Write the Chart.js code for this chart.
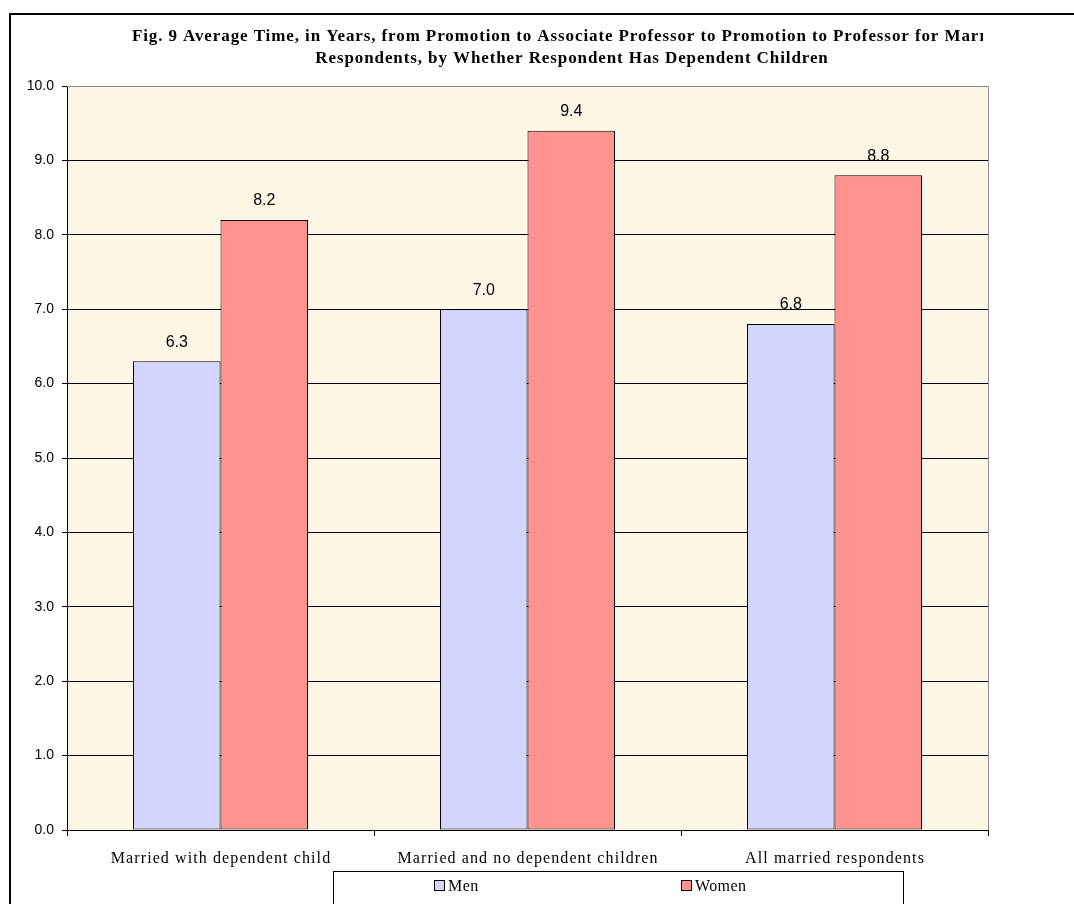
<!DOCTYPE html>
<html>
<head>
<meta charset="utf-8">
<script src="https://cdn.jsdelivr.net/npm/chart.js@4/dist/chart.umd.min.js"></script>
<style>
  html, body { margin: 0; padding: 0; background: #ffffff; }
  #wrap { width: 1074px; height: 904px; position: relative; }
</style>
</head>
<body>
<div id="wrap"><canvas id="c" width="1074" height="904"></canvas></div>
<script>
// Chart data
const titleLines = [
  'Fig. 9 Average Time, in Years, from Promotion to Associate Professor to Promotion to Professor for Married',
  'Respondents, by Whether Respondent Has Dependent Children'
];
const categories = ['Married with dependent child', 'Married and no dependent children', 'All married respondents'];
const seriesNames = ['Men', 'Women'];
const menValues = [6.3, 7.0, 6.8];
const womenValues = [8.2, 9.4, 8.8];
const yMin = 0, yMax = 10, yStep = 1;

const SERIF = '"Liberation Serif", "Times New Roman", serif';
const SANS = '"Liberation Sans", Arial, sans-serif';

// Cream plot background, gray top/right frame and the outer chart frame
const framePlugin = {
  id: 'frame',
  beforeDraw(chart) {
    const { ctx, chartArea: a } = chart;
    ctx.save();
    ctx.fillStyle = '#ffffff';
    ctx.fillRect(0, 0, chart.width, chart.height);
    ctx.fillStyle = '#fff7e6';
    ctx.fillRect(a.left, a.top, a.right - a.left, a.bottom - a.top);
    ctx.restore();
  },
  afterDraw(chart) {
    const { ctx, chartArea: a } = chart;
    ctx.save();
    ctx.strokeStyle = '#8c8c8c';
    ctx.lineWidth = 1;
    ctx.beginPath();
    ctx.moveTo(a.left, a.top + 0.5);
    ctx.lineTo(a.right + 0.5, a.top + 0.5);
    ctx.lineTo(a.right + 0.5, a.bottom);
    ctx.stroke();
    // outer chart frame
    ctx.strokeStyle = '#000000';
    ctx.lineWidth = 2;
    ctx.strokeRect(10, 14, 1200, 1200);
    ctx.restore();
  }
};

// Two-line bold title, clipped at the right like a fixed text box
const titlePlugin = {
  id: 'figTitle',
  afterDraw(chart) {
    const { ctx } = chart;
    ctx.save();
    ctx.beginPath();
    ctx.rect(12, 16, 971, 60);
    ctx.clip();
    ctx.fillStyle = '#000000';
    ctx.font = 'bold 17px ' + SERIF;
    ctx.letterSpacing = '0.9px';
    ctx.textAlign = 'center';
    ctx.textBaseline = 'middle';
    const cx = 572;
    ctx.fillText(titleLines[0], cx, 37);
    ctx.fillText(titleLines[1], cx, 59);
    ctx.restore();
  }
};

// Category labels under the x axis, placed by the category scale
const categoryLabelPlugin = {
  id: 'categoryLabels',
  afterDraw(chart) {
    const { ctx } = chart;
    const xs = chart.scales.x;
    ctx.save();
    ctx.fillStyle = '#000000';
    ctx.font = '16px ' + SERIF;
    ctx.letterSpacing = '1.1px';
    ctx.textAlign = 'center';
    ctx.textBaseline = 'alphabetic';
    chart.data.labels.forEach((lab, i) => {
      ctx.fillText(lab, xs.getPixelForValue(i) + 0.5, 863);
    });
    ctx.restore();
  }
};

// Value labels above each bar
const valueLabelPlugin = {
  id: 'valueLabels',
  afterDatasetsDraw(chart) {
    const { ctx } = chart;
    ctx.save();
    ctx.fillStyle = '#000000';
    ctx.font = '16px ' + SANS;
    ctx.textAlign = 'center';
    ctx.textBaseline = 'middle';
    chart.data.datasets.forEach((ds, i) => {
      chart.getDatasetMeta(i).data.forEach((bar, j) => {
        ctx.fillText(ds.data[j].toFixed(1), bar.x, bar.y - 19);
      });
    });
    ctx.restore();
  }
};

// Boxed legend below the axis labels
const legendBoxPlugin = {
  id: 'legendBox',
  afterDraw(chart) {
    const { ctx } = chart;
    const box = { x: 333.5, y: 871.5, w: 570, h: 60 };
    const itemX = [434, 681];
    ctx.save();
    ctx.fillStyle = '#ffffff';
    ctx.fillRect(box.x, box.y, box.w, box.h);
    ctx.strokeStyle = '#000000';
    ctx.lineWidth = 1;
    ctx.strokeRect(box.x, box.y, box.w, box.h);
    ctx.font = '16px ' + SERIF;
    ctx.letterSpacing = '0.4px';
    ctx.textBaseline = 'middle';
    ctx.textAlign = 'left';
    chart.data.datasets.forEach((ds, i) => {
      const x = itemX[i];
      ctx.fillStyle = ds.backgroundColor;
      ctx.fillRect(x + 0.5, 880.5, 10, 10);
      ctx.strokeRect(x + 0.5, 880.5, 10, 10);
      ctx.fillStyle = '#000000';
      ctx.fillText(ds.label, x + 14, 887);
    });
    ctx.restore();
  }
};

new Chart(document.getElementById('c'), {
  type: 'bar',
  data: {
    labels: categories,
    datasets: [
      { label: seriesNames[0], data: menValues, backgroundColor: '#d4d5fe',
        borderColor: '#000000', borderWidth: 1, borderSkipped: false },
      { label: seriesNames[1], data: womenValues, backgroundColor: '#ff938f',
        borderColor: '#000000', borderWidth: 1, borderSkipped: false }
    ]
  },
  options: {
    responsive: false,
    animation: false,
    devicePixelRatio: 1,
    layout: { padding: { left: 0, top: 86, right: 86, bottom: 0 } },
    datasets: { bar: { categoryPercentage: 0.57, barPercentage: 1.0 } },
    plugins: {
      legend: { display: false },
      title: { display: false },
      tooltip: { enabled: false }
    },
    scales: {
      x: {
        offset: true,
        afterFit(scale) { scale.height = 74; },
        grid: { drawOnChartArea: false, drawTicks: true, tickLength: 6, color: '#000000', offset: true },
        border: { color: '#000000', width: 1 },
        ticks: { display: false }
      },
      y: {
        min: yMin, max: yMax,
        afterFit(scale) { scale.width = 67; },
        grid: {
          color: ctx => (ctx.tick && ctx.tick.value === yMax) ? '#8c8c8c' : '#000000',
          tickColor: '#000000',
          lineWidth: 1, tickLength: 5
        },
        border: { color: '#000000', width: 1 },
        ticks: {
          stepSize: yStep, color: '#000000', padding: 8,
          font: { family: SANS, size: 14 },
          callback: v => v.toFixed(1)
        }
      }
    }
  },
  plugins: [framePlugin, valueLabelPlugin, categoryLabelPlugin, titlePlugin, legendBoxPlugin]
});
</script>
</body>
</html>
